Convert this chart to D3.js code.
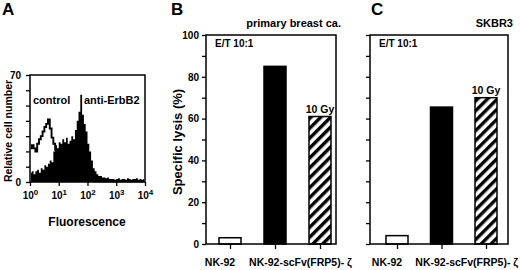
<!DOCTYPE html>
<html lang="en">
<head>
  <meta charset="UTF-8">
  <title>NK-92 lysis</title>
  <script src="https://d3js.org/d3.v7.min.js"></script>
  <style>
  body{ margin:0; background:#fff; }
  text{ font-family:"Liberation Sans", Arial, sans-serif; font-weight:bold; fill:#000; }
  .frame{ fill:none; stroke:#000; stroke-width:1.5; }
  .axis path, .axis line{ stroke:#000; stroke-width:1.3; }
  .axis text{ font-size:10px; }
  </style>
</head>
<body>
  <svg width="520" height="270"></svg>
  <script>
  // panel A: histogram bins, 1/16 decade each from 10^0 to 10^4
  var binsPerDecade = 16;
  var controlCounts = [22,24,22,20,25,28,30,33,36,38,41,35,29,25,21,16,
                       12,9,7,5,4,3,2,2,2,2,2,1,1,1,1,1,
                       1,1,1,1,0.5,0.5,0.5,0.5,0.5,0.5,0.5,0.5,0.5,0.5,0.5,0.5,
                       0.5,0.5,0.5,0.5,0.5,0.5,0.5,0.5,0.5,0.5,0.5,0.5,0.5,0.5,0.5,0.5];
  var antiCounts = [6,7,5,7,8,6,9,8,11,10,12,14,13,20,24,22,
                    26,25,28,26,29,25,27,30,28,34,40,46,57,44,38,33,
                    25,20,14,9,7,5,4,4,3,3,2.5,3,2,2,2,1.5,
                    2,2.5,1.5,2,2,1.5,2.5,2,1.5,2,2,2.5,1.5,2,1.5,2];
  var decadeTicks = [1,10,100,1000,10000];

  // panels B and C
  var cells = ["NK-92", "NK-92-scFv(FRP5)- ζ", "10 Gy"];
  var lysisB = [3, 85, 61];
  var lysisC = [4, 65.5, 70];
  var lysisTicks = [0,10,20,30,40,50,60,70,80,90,100];

  var svg = d3.select("svg");
  var defs = svg.append("defs");
  var pat = defs.append("pattern").attr("id","hatch")
      .attr("patternUnits","userSpaceOnUse").attr("width",7).attr("height",7)
      .attr("patternTransform","rotate(45)");
  pat.append("rect").attr("width",7).attr("height",7).attr("fill","#fff");
  pat.append("rect").attr("x",0).attr("width",3.4).attr("height",7).attr("fill","#000");

  // ---------- panel A ----------
  var ax = d3.scaleLog().domain([1,10000]).range([30,145]);
  var ay = d3.scaleLinear().domain([0,70]).range([182,75]);
  var binX = function(i){ return ax(Math.pow(10, i/binsPerDecade)); };

  svg.append("text").text("A").attr("x",2).attr("y",15).style("font-size","17px");

  var ctrlLine = d3.line()
      .x(function(d,i){ return binX(i + 0.5); })
      .y(function(d){ return ay(d); })
      .curve(d3.curveStep);
  svg.append("path").attr("d", ctrlLine(controlCounts))
     .attr("fill","none").attr("stroke","#000").attr("stroke-width",1.9);

  var antiArea = d3.area()
      .x(function(d,i){ return binX(i + 0.5); })
      .y0(ay(0))
      .y1(function(d){ return ay(d); })
      .curve(d3.curveStep);
  svg.append("path").attr("d", antiArea(antiCounts)).attr("fill","#000");

  svg.append("rect").attr("class","frame")
     .attr("x",ax(1)).attr("y",ay(70)).attr("width",ax(10000)-ax(1)).attr("height",ay(0)-ay(70));

  var ayAxis = svg.append("g").attr("class","axis").attr("transform","translate(30,0)")
      .call(d3.axisLeft(ay).tickValues(d3.range(0,71,10)).tickSize(4).tickPadding(5)
            .tickFormat(function(d){ return (d===0||d===70) ? d : ""; }));
  ayAxis.select(".domain").remove();
  var axAxis = svg.append("g").attr("class","axis").attr("transform","translate(0,182)")
      .call(d3.axisBottom(ax).tickValues(decadeTicks).tickSize(4).tickFormat(""));
  axAxis.select(".domain").remove();
  axAxis.selectAll(".tick").append("text").attr("y",17).attr("text-anchor","middle")
      .style("font-size","10px")
      .each(function(d){
        var t = d3.select(this);
        t.append("tspan").text("10");
        t.append("tspan").text(Math.round(Math.log10(d))).attr("dy",-4).style("font-size","8px");
      });

  svg.append("text").text("Fluorescence").attr("x",87).attr("y",226)
     .attr("text-anchor","middle").style("font-size","12px");
  svg.append("text").text("Relative cell number")
     .attr("transform","translate(12,131) rotate(-90)")
     .attr("text-anchor","middle").style("font-size","10.5px");
  svg.append("text").text("control").attr("x",33).attr("y",104).style("font-size","11px");
  svg.append("text").text("anti-ErbB2").attr("x",84).attr("y",104).style("font-size","11px");

  // ---------- panels B and C ----------
  function barPanel(opt){
    var y = d3.scaleLinear().domain([0,100]).range([244,35]);
    var x = d3.scalePoint().domain(cells).range(opt.range);
    var bw = 22;
    var g = svg.append("g");

    g.append("text").text(opt.letter).attr("x",opt.letterX).attr("y",15).style("font-size","17px");
    g.append("text").text(opt.title).attr("x",opt.right+5).attr("y",27)
     .attr("text-anchor","end").style("font-size","11px");

    g.selectAll("rect.bar").data(opt.values).enter().append("rect")
     .attr("class","bar")
     .attr("x",function(d,i){ return x(cells[i]) - bw/2; })
     .attr("y",function(d){ return y(d); })
     .attr("width",bw)
     .attr("height",function(d){ return y(0) - y(d); })
     .attr("fill",function(d,i){ return i===0 ? "#fff" : (i===1 ? "#000" : "url(#hatch)"); })
     .attr("stroke","#000").attr("stroke-width",1.5);

    g.append("text").text("10 Gy").attr("x",x(cells[2])).attr("y",y(opt.values[2])-4)
     .attr("text-anchor","middle").style("font-size","10.5px");
    g.append("text").text("E/T 10:1").attr("x",opt.left+9).attr("y",47).style("font-size","10px");

    g.append("rect").attr("class","frame")
     .attr("x",opt.left).attr("y",y(100)).attr("width",opt.right-opt.left).attr("height",y(0)-y(100));

    var yAx = g.append("g").attr("class","axis").attr("transform","translate("+opt.left+",0)")
      .call(d3.axisLeft(y).tickValues(lysisTicks).tickSize(4)
            .tickFormat(function(d){ return (opt.labels && d % 20 === 0) ? d : ""; }));
    yAx.select(".domain").remove();
    yAx.selectAll("text").style("font-size","10px");

    var xAx = g.append("g").attr("class","axis").attr("transform","translate(0,244)")
      .call(d3.axisBottom(x).tickValues(cells).tickSize(5).tickFormat(""));
    xAx.select(".domain").remove();

    g.append("text").text(cells[0]).attr("x",x(cells[0])-10).attr("y",266)
     .attr("text-anchor","middle").style("font-size","10.5px");
    g.append("text").text(cells[1]).attr("x",(x(cells[1])+x(cells[2]))/2+3).attr("y",266)
     .attr("text-anchor","middle").style("font-size","10.5px");
  }

  barPanel({letter:"B", letterX:171, title:"primary breast ca.", left:206, right:336,
            range:[230,320], values:lysisB, labels:true});
  barPanel({letter:"C", letterX:371, title:"SKBR3", left:370, right:508,
            range:[397,486], values:lysisC, labels:false});

  svg.append("text").text("Specific lysis  (%)")
     .attr("transform","translate(182,142) rotate(-90)")
     .attr("text-anchor","middle").style("font-size","13px");
  </script>
</body>
</html>
